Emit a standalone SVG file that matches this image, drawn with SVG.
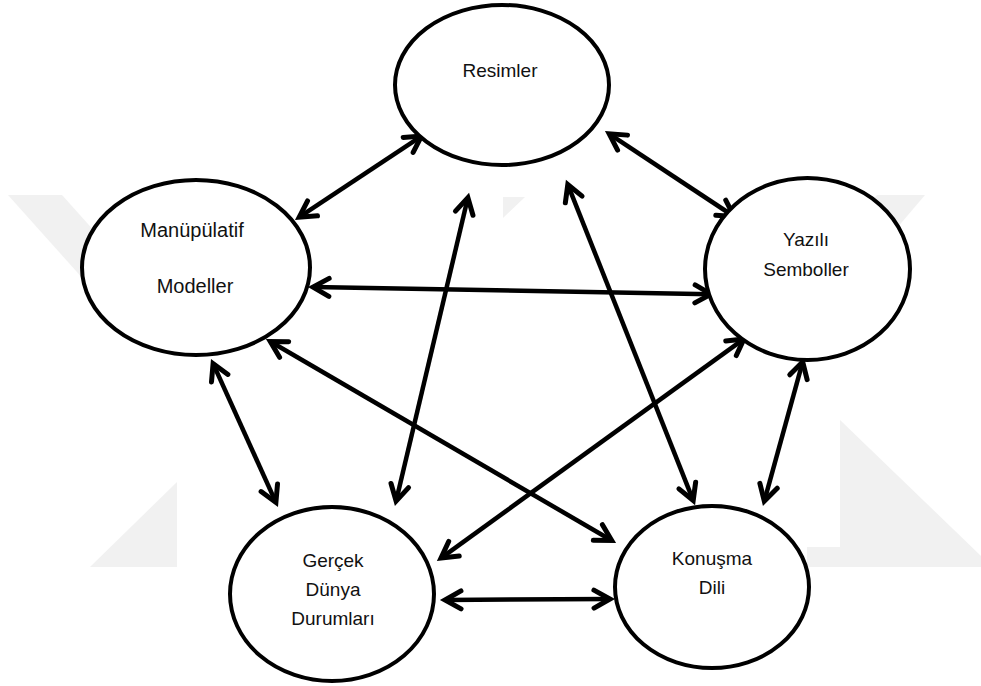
<svg xmlns="http://www.w3.org/2000/svg" width="981" height="686" viewBox="0 0 981 686">
<style>
.wm{fill:#f1f1f1;stroke:none}
.node ellipse{fill:#fff;stroke:#000;stroke-width:4}
.node text{font-family:"Liberation Sans",Arial,sans-serif;font-size:19px;fill:#111;text-anchor:middle}
.conn line{stroke:#000;stroke-width:4.5;fill:none;marker-start:url(#ah);marker-end:url(#ah)}
</style>
<defs>
<marker id="ah" markerUnits="userSpaceOnUse" viewBox="-22 -14 30 28" markerWidth="30" markerHeight="28" refX="0" refY="0" orient="auto-start-reverse" overflow="visible">
<path d="M-16,-9 L0,0 L-16,9" fill="none" stroke="#000" stroke-width="5" stroke-linejoin="miter" stroke-linecap="round"/>
</marker>
</defs>
<rect width="981" height="686" fill="#fff"/>
<g id="watermark">
<polygon class="wm" points="8,195 62,195 165,310 111,310"/>
<polygon class="wm" points="90,567 177,567 177,482"/>
<polygon class="wm" points="503,197 525,197 503,218"/>
<polygon class="wm" points="877,195 925,195 868,262 820,262"/>
<polygon class="wm" points="840,420 981,556 981,567 807,567 807,547 840,547"/>
</g>
<g id="connectors" class="conn">
<line x1="421.5" y1="136.1" x2="299.2" y2="217.2"/>
<line x1="609.2" y1="133.8" x2="734.1" y2="216.5"/>
<line x1="313" y1="287.1" x2="711" y2="294.2"/>
<line x1="467.9" y1="197.6" x2="396.1" y2="501.1"/>
<line x1="567.8" y1="184.6" x2="693.2" y2="500.4"/>
<line x1="270.3" y1="341.5" x2="611.7" y2="540.5"/>
<line x1="744" y1="338.9" x2="441" y2="558.1"/>
<line x1="213.1" y1="363.6" x2="275.9" y2="502.4"/>
<line x1="802.7" y1="361.8" x2="764.3" y2="501.2"/>
<line x1="445" y1="600" x2="610" y2="599"/>
</g>
<g id="node-resimler" class="node">
<ellipse cx="502" cy="85" rx="107" ry="80"/>
<text x="500" y="77">Resimler</text>
</g>
<g id="node-manupulatif" class="node">
<ellipse cx="196" cy="267.5" rx="114" ry="87.5"/>
<text x="192" y="237" style="font-size:20px">Manüpülatif</text>
<text x="195" y="293" style="font-size:20px">Modeller</text>
</g>
<g id="node-yazili" class="node">
<ellipse cx="807.5" cy="269" rx="102.5" ry="91"/>
<text x="806" y="246">Yazılı</text>
<text x="806" y="276">Semboller</text>
</g>
<g id="node-gercek" class="node">
<ellipse cx="332" cy="594" rx="102" ry="87"/>
<text x="333" y="567">Gerçek</text>
<text x="333" y="596">Dünya</text>
<text x="333" y="625">Durumları</text>
</g>
<g id="node-konusma" class="node">
<ellipse cx="712" cy="587" rx="97" ry="81"/>
<text x="712" y="565">Konuşma</text>
<text x="712" y="594">Dili</text>
</g>
</svg>
